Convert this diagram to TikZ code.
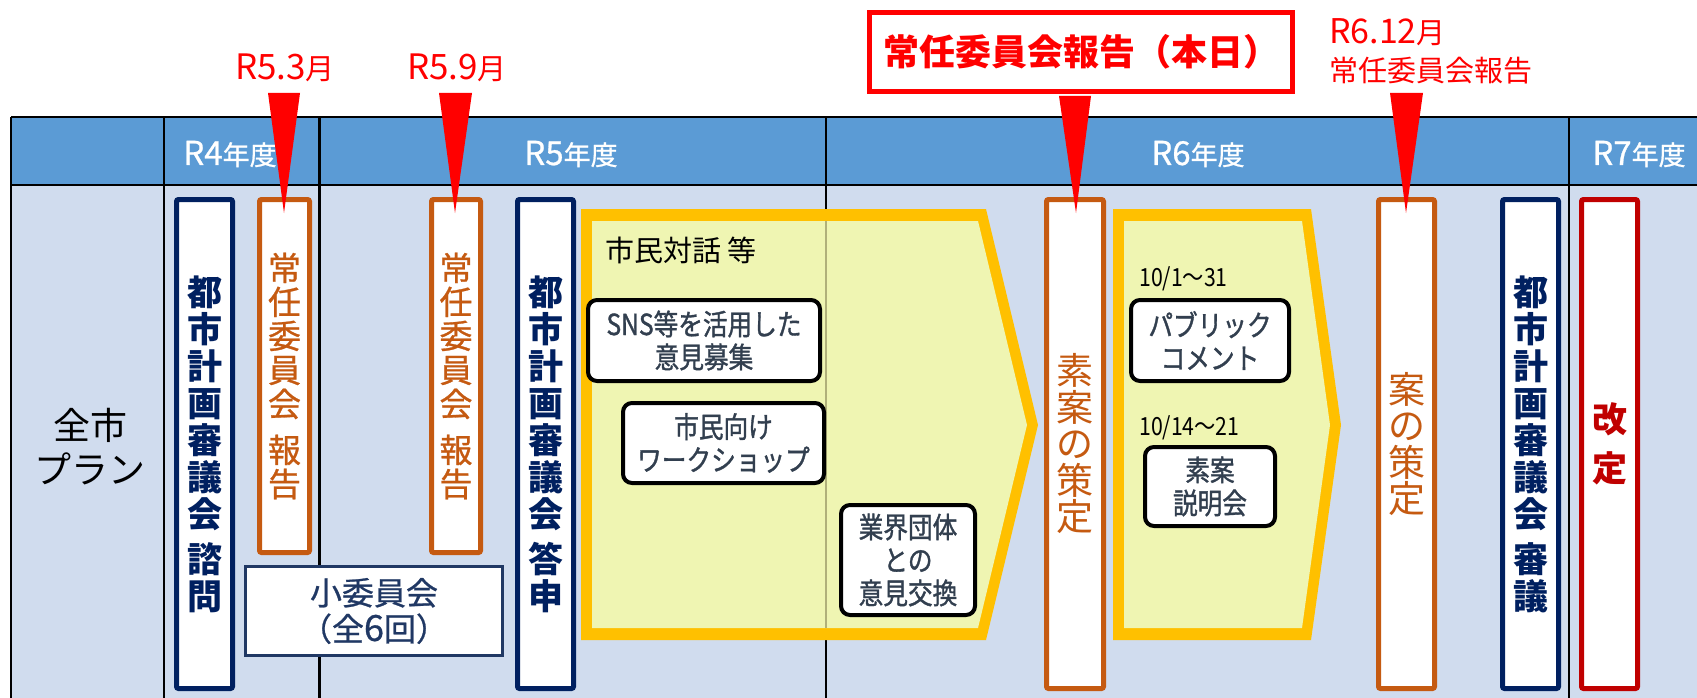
\documentclass[tikz,border=0pt]{standalone}
\usepackage{fontspec}
\setmainfont{Noto Sans CJK JP}
\newfontfamily\jpc{Noto Sans CJK JP}[FakeStretch=0.85]
\newfontfamily\jpcb{Noto Sans CJK JP}[FakeStretch=0.85, FakeBold=1.2]
\newfontfamily\jpm{Noto Sans CJK JP}[FakeBold=0.8]
\definecolor{headc}{HTML}{5B9BD5}
\definecolor{bodyc}{HTML}{D0DCEE}
\definecolor{navyc}{HTML}{002060}
\definecolor{navyb}{HTML}{203864}
\definecolor{orangec}{HTML}{C55A11}
\definecolor{redc}{HTML}{FF0000}
\definecolor{darkred}{HTML}{C00000}
\definecolor{goldc}{HTML}{FFC000}
\definecolor{paleyel}{HTML}{EFF5B2}
\definecolor{slatec}{HTML}{323F4F}
\definecolor{olivec}{HTML}{B0B07A}
\tikzset{
  tline/.style={line width=2.2pt, draw=black},
  vbox/.style={draw, fill=white, line width=5pt, rounded corners=2pt, inner sep=0pt, align=center, minimum width=56pt, minimum height=489pt},
  navybox/.style={vbox, draw=navyc, text=navyc, font=\bfseries\fontsize{35pt}{37pt}\selectfont},
  orbox/.style={vbox, draw=orangec, text=orangec},
  rbox/.style={draw=black, fill=white, line width=4pt, rounded corners=9pt, inner sep=0pt, align=center, text=slatec, font=\jpcb\fontsize{29pt}{33pt}\selectfont},
  hdr/.style={text=white, font=\jpm\fontsize{27pt}{30pt}\selectfont, inner sep=0pt},
  redlbl/.style={text=redc, inner sep=0pt},
  pointer/.style={fill=redc},
  datelbl/.style={anchor=west, inner sep=0pt, text=black, font=\jpc\fontsize{25pt}{28pt}\selectfont},
}
\begin{document}
\begin{tikzpicture}[x=1pt,y=-1pt]
\useasboundingbox (0,0) rectangle (1697,698);
% table
\fill[bodyc] (11,185) rectangle (1697,698);
\fill[headc] (11,117) rectangle (1697,185);
\draw[tline] (11,117) -- (1697,117);
\draw[tline] (11,185) -- (1697,185);
\foreach \cx in {11,164,319.5,826,1569} {\draw[tline] (\cx,117) -- (\cx,698);}
% header texts
\node[hdr] (h4) at (230,154) {{\fontsize{33pt}{30pt}\selectfont R4}年度};
\node[hdr] (h5) at (571,154) {{\fontsize{33pt}{30pt}\selectfont R5}年度};
\node[hdr] (h6) at (1198,154) {{\fontsize{33pt}{30pt}\selectfont R6}年度};
\node[hdr] (h7) at (1639,154) {{\fontsize{33pt}{30pt}\selectfont R7}年度};
% row label
\node[align=center, inner sep=0pt, font=\fontsize{37pt}{44pt}\selectfont] (plan) at (90,447) {全市\\プラン};
% yellow arrows
\fill[goldc] (581,209) -- (986,209) -- (1038,425) -- (986,640) -- (581,640) -- cycle;
\fill[paleyel] (592,221) -- (978,221) -- (1027,425) -- (978,628) -- (592,628) -- cycle;
\draw[olivec, line width=1.5pt] (826,221) -- (826,628);
\fill[goldc] (1113,209) -- (1311,209) -- (1341,425) -- (1311,640) -- (1113,640) -- cycle;
\fill[paleyel] (1124,221) -- (1302,221) -- (1330,425) -- (1302,628) -- (1124,628) -- cycle;
% vertical boxes
\node[navybox] (shimon) at (204.5,444) {都\\市\\計\\画\\審\\議\\会\\[8pt]諮\\問};
\node[orbox, minimum width=50pt, minimum height=353pt, font=\jpm\fontsize{33pt}{34pt}\selectfont] (hok1) at (284.5,376) {常\\任\\委\\員\\会\\[12pt]報\\告};
\node[orbox, minimum width=49pt, minimum height=353pt, font=\jpm\fontsize{33pt}{34pt}\selectfont] (hok2) at (456,376) {常\\任\\委\\員\\会\\[12pt]報\\告};
\node[navybox] (toshin) at (545.5,444) {都\\市\\計\\画\\審\\議\\会\\[8pt]答\\申};
\node[orbox, minimum width=57pt, font=\fontsize{37pt}{36.5pt}\selectfont] (soan) at (1075,444) {素\\案\\の\\策\\定};
\node[orbox, font=\fontsize{37pt}{36.5pt}\selectfont] (anno) at (1406.5,444) {案\\の\\策\\定};
\node[navybox] (shingi) at (1530.5,444) {都\\市\\計\\画\\審\\議\\会\\[8pt]審\\議};
\node[vbox, draw=darkred, text=darkred, font=\bfseries\fontsize{35pt}{49pt}\selectfont] (kaitei) at (1609.5,444) {改\\定};
% subcommittee
\node[draw=navyb, line width=3pt, fill=white, minimum width=257pt, minimum height=89pt, inner sep=0pt, align=center, text=navyb, font=\jpm\fontsize{32pt}{36pt}\selectfont] (sho) at (374,611) {小委員会\\（全{\fontsize{36pt}{36pt}\selectfont 6}回）};
% dialogue contents
\node[anchor=west, inner sep=0pt, font=\fontsize{29pt}{32pt}\selectfont] (taiwa) at (605,250) {市民対話 等};
\node[rbox, minimum width=232pt, minimum height=81pt] (sns) at (704,340.5) {SNS等を活用した\\意見募集};
\node[rbox, minimum width=201pt, minimum height=80pt] (ws) at (723.5,443) {市民向け\\ワークショップ};
\node[rbox, minimum width=134pt, minimum height=110pt] (gyokai) at (908,560) {業界団体\\との\\意見交換};
\node[datelbl] (d1) at (1139,279) {10/1～31};
\node[rbox, minimum width=158pt, minimum height=81pt] (pub) at (1210,340.5) {パブリック\\コメント};
\node[datelbl] (d2) at (1139,428) {10/14～21};
\node[rbox, minimum width=130pt, minimum height=79pt] (setsu) at (1210,486.5) {素案\\説明会};
% labels
\node[redlbl] (r53) at (285,68) {{\fontsize{35pt}{40pt}\selectfont R5.3}{\fontsize{29pt}{40pt}\selectfont 月}};
\node[redlbl] (r59) at (457,68) {{\fontsize{35pt}{40pt}\selectfont R5.9}{\fontsize{29pt}{40pt}\selectfont 月}};
\node[redlbl, anchor=west, align=left, font=\fontsize{29pt}{38pt}\selectfont] (r612) at (1329,51) {{\fontsize{34pt}{38pt}\selectfont R6.12}月\\常任委員会報告};
\node[draw=redc, line width=5pt, fill=white, minimum width=423pt, minimum height=79pt, inner sep=0pt, text=redc, font=\bfseries\fontsize{36pt}{40pt}\selectfont] (honbi) at (1081,52) {常任委員会報告（本日）};
% pointers
\coordinate (p1a) at (268,93); \coordinate (p1b) at (300,93); \coordinate (p1t) at (284,213);
\coordinate (p2a) at (439,93); \coordinate (p2b) at (472,93); \coordinate (p2t) at (455,213);
\coordinate (p3a) at (1059,96); \coordinate (p3b) at (1091,96); \coordinate (p3t) at (1076,213);
\coordinate (p4a) at (1390,93); \coordinate (p4b) at (1423,93); \coordinate (p4t) at (1406,213);
\fill[pointer] (p1a) -- (p1b) -- (p1t) -- cycle;
\fill[pointer] (p2a) -- (p2b) -- (p2t) -- cycle;
\fill[pointer] (p3a) -- (p3b) -- (p3t) -- cycle;
\fill[pointer] (p4a) -- (p4b) -- (p4t) -- cycle;
\end{tikzpicture}
\end{document}
